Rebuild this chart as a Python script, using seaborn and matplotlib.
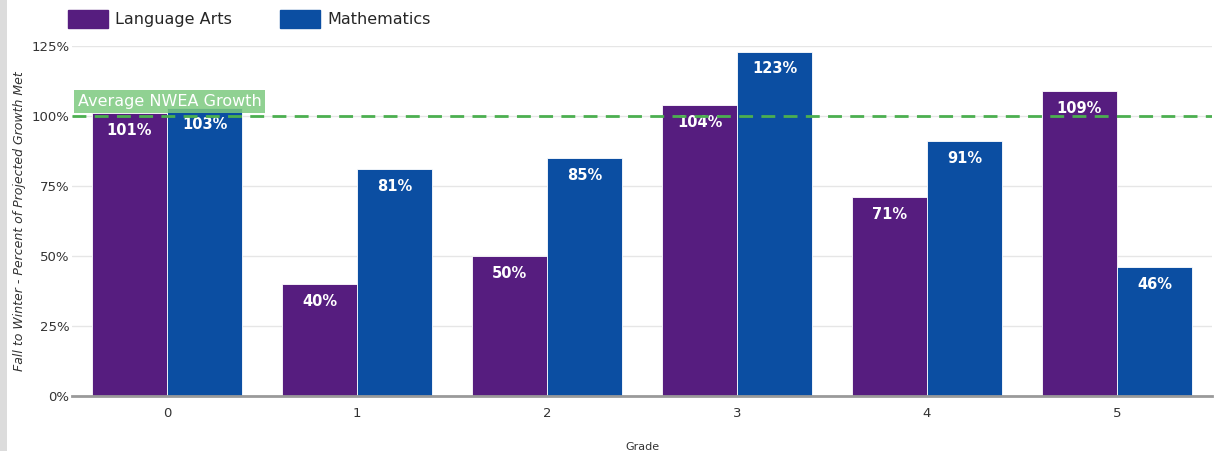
import matplotlib
matplotlib.use("Agg")
import matplotlib.pyplot as plt
import matplotlib.patches as mpatches
import seaborn as sns
import pandas as pd
import numpy as np

grades = ["0", "1", "2", "3", "4", "5"]
language_arts = [101, 40, 50, 104, 71, 109]
mathematics = [103, 81, 85, 123, 91, 46]
series_names = ["Language Arts", "Mathematics"]
yticks = [0, 25, 50, 75, 100, 125]
avg_growth = 100

sns.set_theme(style="white")
plt.rcParams['font.family'] = ['DejaVu Sans']

df = pd.DataFrame({
    "Grade": grades * 2,
    "Subject": [series_names[0]] * len(grades) + [series_names[1]] * len(grades),
    "Value": language_arts + mathematics,
})

colors = ["#561d7f", "#0b4ea2"]
fig = plt.figure(figsize=(12.17, 4.51), dpi=100)
ax = fig.add_axes([0.0592, 0.122, 0.9367, 0.776])

sns.barplot(data=df, x="Grade", y="Value", hue="Subject", palette=colors, saturation=1,
            width=0.79, gap=0.0, ax=ax, legend=False, edgecolor="white", linewidth=0.6)

ax.set_xlim(-0.5, 5.5)
ax.set_ylim(0, 125)
ax.set_yticks(yticks)
ax.set_yticklabels([f"{v}%" for v in yticks], fontsize=9.5, color="#333333")
ax.tick_params(axis="x", labelsize=9.5, colors="#333333", length=0, pad=8)
ax.tick_params(axis="y", length=0, pad=2)
ax.yaxis.grid(True, color="#e6e6e6", linewidth=1)
ax.set_axisbelow(True)
for s in ["top", "right", "left"]:
    ax.spines[s].set_visible(False)
ax.spines["bottom"].set_color("#9a9a9a")
ax.spines["bottom"].set_linewidth(2)

ax.set_xlabel("Grade", fontsize=8, color="#333333", labelpad=16)
ax.set_ylabel("Fall to Winter - Percent of Projected Growth Met", fontsize=9,
              fontstyle="italic", color="#333333", labelpad=4)

for cont in ax.containers:
    for bar in cont:
        h = bar.get_height()
        ax.text(bar.get_x() + bar.get_width() / 2, h - 3.5, f"{h:.0f}%",
                ha="center", va="top", color="white", fontsize=10.5, fontweight="bold", zorder=4)

ax.axhline(avg_growth, color="#4caf50", linestyle=(0, (5, 3)), linewidth=2, zorder=5)
ax.text(-0.47, avg_growth + 5.3, "Average NWEA Growth", ha="left", va="center",
        color="white", fontsize=11.5, zorder=6,
        bbox=dict(boxstyle="square,pad=0.25", facecolor="#7dc97f", edgecolor="none", alpha=0.85))

handles = [mpatches.Patch(color=c, label=n) for c, n in zip(colors, series_names)]
leg = fig.legend(handles=handles, loc="upper left", bbox_to_anchor=(0.044, 1.01), ncol=2,
                 frameon=False, fontsize=11.5, handlelength=2.5, handleheight=1.4,
                 columnspacing=3.0, handletextpad=0.45)

fig.patches.append(mpatches.Rectangle((0, 0), 7 / 1217, 1, transform=fig.transFigure,
                                      facecolor="#dcdcdc", edgecolor="none"))

fig.savefig("out.png", dpi=100)
